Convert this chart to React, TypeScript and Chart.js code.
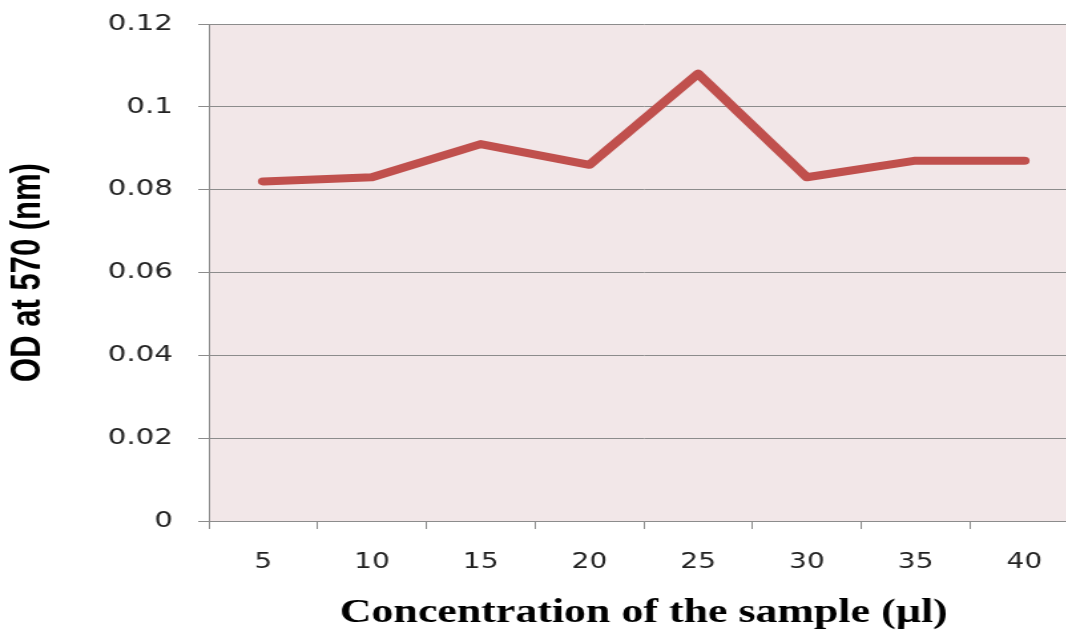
import React, { useEffect, useRef } from "react";
import { Chart, registerables } from "chart.js";

Chart.register(...registerables);

const categories = ["5", "10", "15", "20", "25", "30", "35", "40"];
const odValues = [0.082, 0.083, 0.091, 0.086, 0.108, 0.083, 0.087, 0.087];
const yTickLabels = ["0", "0.02", "0.04", "0.06", "0.08", "0.1", "0.12"];
const xTitle = "Concentration of the sample (\u00b5l)";
const yTitle = "OD at 570 (nm)";

const STRETCH = 1.33;
const INNER_W = 812;
const H = 630;

const plotBg = {
  id: "plotBg",
  beforeDraw(chart: any) {
    const { ctx, chartArea } = chart;
    if (!chartArea) return;
    ctx.save();
    ctx.fillStyle = "#f2e7e8";
    ctx.fillRect(chartArea.left, chartArea.top, chartArea.right - chartArea.left, chartArea.bottom - chartArea.top);
    ctx.restore();
  },
};

export default function App() {
  const ref = useRef<HTMLCanvasElement | null>(null);
  useEffect(() => {
    if (!ref.current) return;
    const chart = new Chart(ref.current, {
      type: "line",
      data: {
        labels: categories,
        datasets: [
          {
            data: odValues,
            borderColor: "#c0504d",
            backgroundColor: "#c0504d",
            borderWidth: 8,
            pointRadius: 0,
            tension: 0,
            borderCapStyle: "round",
            borderJoinStyle: "round",
            fill: false,
          },
        ],
      },
      plugins: [plotBg],
      options: {
        animation: false,
        responsive: false,
        maintainAspectRatio: false,
        layout: { padding: { left: 0, right: 1, top: 24, bottom: 0 } },
        plugins: { legend: { display: false }, tooltip: { enabled: false } },
        scales: {
          x: {
            type: "category",
            offset: true,
            grid: {
              offset: true,
              drawOnChartArea: false,
              drawTicks: true,
              tickLength: 8,
              color: "#8c8c8c",
              lineWidth: 1,
            },
            border: { display: true, color: "#8c8c8c", width: 1 },
            ticks: {
              color: "#222",
              padding: 21,
              font: { family: "DejaVu Sans", size: 21 },
              maxRotation: 0,
            },
            title: {
              display: true,
              text: xTitle,
              color: "#000",
              font: { family: "Liberation Serif", size: 33, weight: "bold", lineHeight: 1 },
              padding: { top: 0, bottom: 0 },
            },
            afterFit: (scale: any) => {
              scale.height = 109;
            },
          },
          y: {
            min: 0,
            max: 0.12,
            ticks: {
              stepSize: 0.02,
              color: "#222",
              padding: 19,
              font: { family: "DejaVu Sans", size: 22 },
              callback: (_v: any, i: number) => yTickLabels[i],
            },
            grid: {
              color: "#8c8c8c",
              lineWidth: 1,
              drawTicks: true,
              tickLength: 8,
            },
            border: { display: true, color: "#8c8c8c", width: 1 },
            title: {
              display: true,
              text: yTitle,
              color: "#000",
              font: { family: "Liberation Sans", size: 31, weight: "bold", lineHeight: 1 },
              padding: { top: 6, bottom: 0 },
            },
            afterFit: (scale: any) => {
              scale.width = 157;
              scale.paddingTop = 0;
              scale.paddingBottom = 0;
            },
          },
        },
      },
    });
    return () => chart.destroy();
  }, []);
  return (
    <div
      style={{
        position: "fixed",
        left: 0,
        top: 0,
        width: 1066,
        height: H,
        overflow: "hidden",
        background: "#fff",
      }}
    >
      <canvas
        ref={ref}
        width={INNER_W}
        height={H}
        style={{
          display: "block",
          width: INNER_W,
          height: H,
          transform: `scaleX(${STRETCH})`,
          transformOrigin: "0 0",
        }}
      />
    </div>
  );
}
